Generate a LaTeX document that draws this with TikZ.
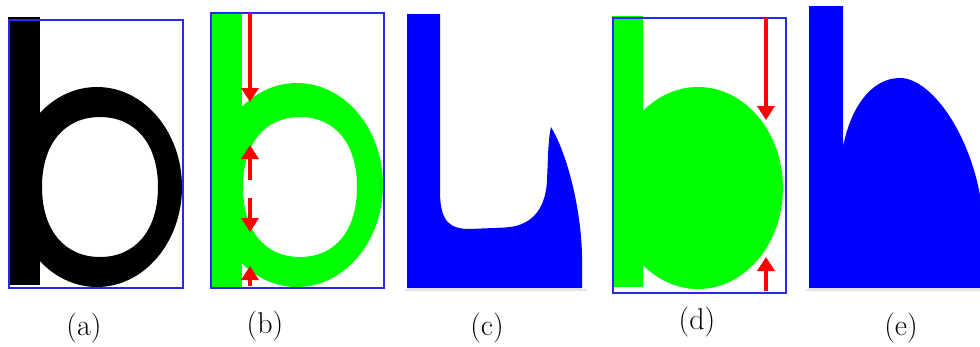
\documentclass[tikz,border=0pt]{standalone}
\usetikzlibrary{arrows.meta}
\definecolor{gr}{RGB}{0,255,0}
\definecolor{bl}{RGB}{0,0,255}
\definecolor{frame}{RGB}{40,40,240}
\definecolor{rd}{RGB}{255,0,0}
\definecolor{beige}{RGB}{236,228,218}
\tikzset{
  boxframe/.style={draw=frame, line width=1.6pt},
  redarrow/.style={draw=rd, line width=3.6pt, -{Triangle[width=17pt,length=14pt]}},
  caption/.style={anchor=base, font=\fontsize{30}{32}\selectfont, inner sep=0pt},
  shadowline/.style={draw=beige, line width=2pt}
}
\begin{document}
\begin{tikzpicture}[x=1pt,y=-1pt]
\useasboundingbox (0,0) rectangle (980,346);
% ---------- (a)
\fill[black] (8,17) rectangle (40,285);
\fill[black, even odd rule] (97,187) ellipse [x radius=85, y radius=100]
  (158,187) .. controls (158,230.4) and (135.3,257) .. (100,257)
  .. controls (64.7,257) and (42,230.4) .. (42,187)
  .. controls (42,143.6) and (64.7,117) .. (100,117)
  .. controls (135.3,117) and (158,143.6) .. (158,187) -- cycle;
\node[boxframe, inner sep=0pt, minimum width=174pt, minimum height=268pt, anchor=north west] (boxa) at (8,19) {};
% ---------- (b)
\fill[gr] (210,12) rectangle (242,287);
\fill[gr, even odd rule] (297,185) ellipse [x radius=86, y radius=102]
  (357,187) .. controls (357,230.4) and (335.3,257) .. (300,257)
  .. controls (264.7,257) and (243,230.4) .. (243,187)
  .. controls (243,143.6) and (264.7,117) .. (300,117)
  .. controls (335.3,117) and (357,143.6) .. (357,187) -- cycle;
\node[boxframe, inner sep=0pt, minimum width=173pt, minimum height=275pt, anchor=north west] (boxb) at (210,12) {};
\coordinate (b1s) at (250,13);  \coordinate (b1e) at (250,102);
\coordinate (b2s) at (250,180); \coordinate (b2e) at (250,145);
\coordinate (b3s) at (250,198); \coordinate (b3e) at (250,232);
\coordinate (b4s) at (250,286); \coordinate (b4e) at (250,266);
\draw[redarrow] (b1s) -- (b1e);
\draw[redarrow] (b2s) -- (b2e);
\draw[redarrow] (b3s) -- (b3e);
\draw[redarrow] (b4s) -- (b4e);
% ---------- (c)
\fill[bl] (407,14) -- (440,14) -- (440,195)
  .. controls (441,222) and (450,229) .. (470,229)
  -- (505,227.5)
  .. controls (535,226) and (546,205) .. (547,180)
  .. controls (548,160) and (548,140) .. (551,127)
  .. controls (565,150) and (580,200) .. (582,253)
  -- (582,288) -- (407,288) -- cycle;
\draw[shadowline] (405,290) -- (587,290);
% ---------- (d)
\fill[gr] (612,16) rectangle (643,287);
\fill[gr] (698,188) ellipse [x radius=85, y radius=101];
\node[boxframe, inner sep=0pt, minimum width=173pt, minimum height=275pt, anchor=north west] (boxd) at (612,17) {};
\coordinate (d1s) at (766,18);  \coordinate (d1e) at (766,120);
\coordinate (d2s) at (766,291); \coordinate (d2e) at (766,257);
\draw[redarrow] (d1s) -- (d1e);
\draw[redarrow] (d2s) -- (d2e);
% ---------- (e)
\fill[bl] (809,6) -- (843,6) -- (843,147)
  .. controls (850,110) and (870,78) .. (900,78)
  .. controls (930,78) and (968,130) .. (980,195)
  -- (980,288) -- (809,288) -- cycle;
\draw[shadowline] (806,290) -- (980,290);
% ---------- captions
\node[caption] (la) at (84,335) {(a)};
\node[caption] (lb) at (265,333) {(b)};
\node[caption] (lc) at (487,335) {(c)};
\node[caption] (ld) at (697,329) {(d)};
\node[caption] (le) at (901,335) {(e)};
\end{tikzpicture}
\end{document}
